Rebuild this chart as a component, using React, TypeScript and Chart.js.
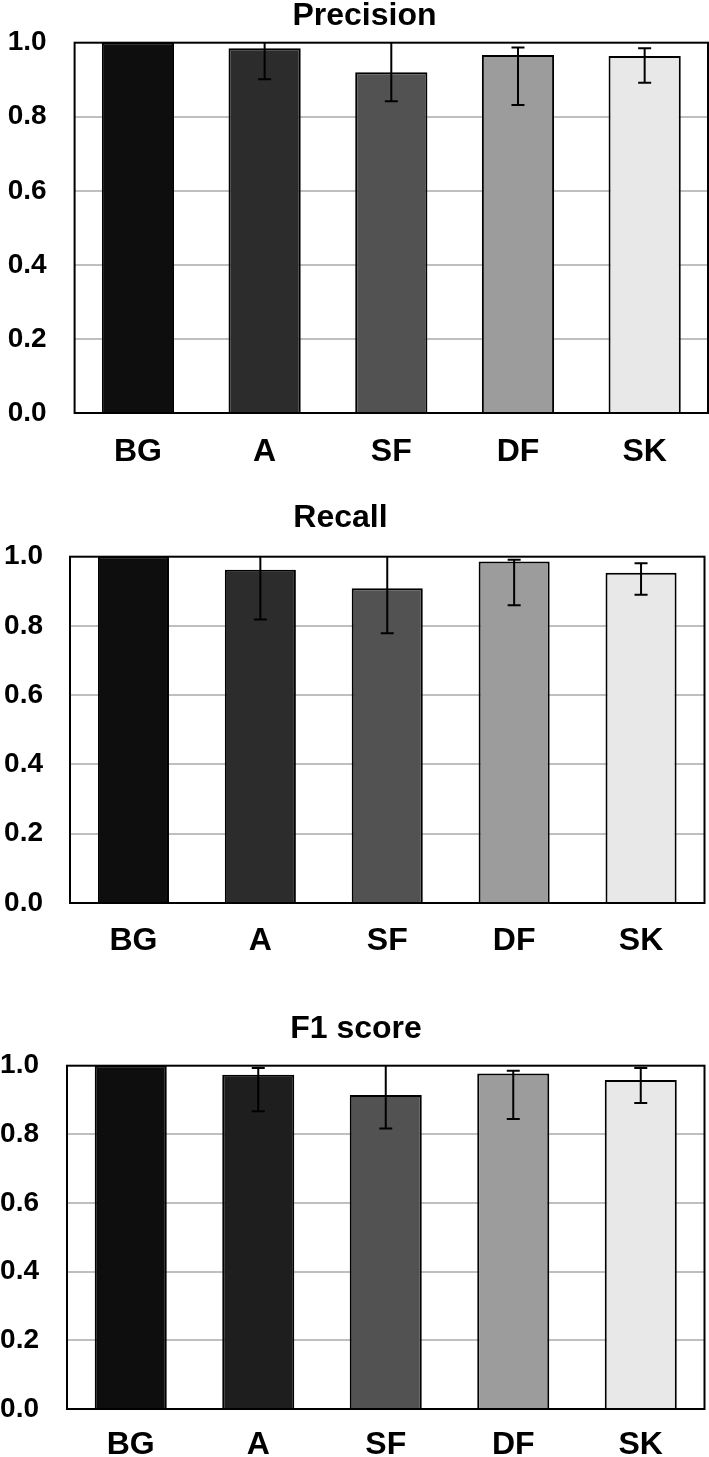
import React, { useEffect, useRef } from "react";
import { Chart, registerables } from "chart.js";

Chart.register(...registerables);

// ---------- data ----------
const categories = ["BG", "A", "SF", "DF", "SK"];
const yTickValues = [0, 0.2, 0.4, 0.6, 0.8, 1.0];

const precisionValues = [1.0, 0.985, 0.92, 0.967, 0.964];
const precisionLow = [1.0, 0.901, 0.842, 0.832, 0.892];
const precisionHigh = [1.0, 1.05, 1.03, 0.987, 0.985];

const recallValues = [1.0, 0.962, 0.909, 0.986, 0.954];
const recallLow = [1.0, 0.819, 0.779, 0.86, 0.89];
const recallHigh = [1.0, 1.05, 1.05, 0.991, 0.981];

const f1Values = [1.0, 0.974, 0.915, 0.977, 0.958];
const f1Low = [1.0, 0.867, 0.817, 0.845, 0.891];
const f1High = [1.0, 0.993, 1.05, 0.985, 0.993];

const barColorsA = ["#0e0e0e", "#2c2c2c", "#525252", "#9c9c9c", "#e8e8e8"];
const barColorsB = ["#0e0e0e", "#1e1e1e", "#525252", "#9c9c9c", "#e8e8e8"];

const FONT = "'Liberation Sans', Arial, Helvetica, sans-serif";

type Panel = {
  title: string;
  values: number[];
  low: number[];
  high: number[];
  colors: string[];
  top: number;
  height: number;
  padR: number;
  titleCenterX: number;
  titlePadBottom: number;
  yWidth: number;
  yTickPad: number;
  xTickPad: number;
  barPct: number;
};

const panels: Panel[] = [
  {
    title: "Precision",
    values: precisionValues,
    low: precisionLow,
    high: precisionHigh,
    colors: barColorsA,
    top: 0,
    height: 469,
    padR: 1,
    titleCenterX: 364.5,
    titlePadBottom: 10.7,
    yWidth: 74.6,
    yTickPad: 28,
    xTickPad: 23,
    barPct: 0.57,
  },
  {
    title: "Recall",
    values: recallValues,
    low: recallLow,
    high: recallHigh,
    colors: barColorsA,
    top: 502,
    height: 456.5,
    padR: 4.5,
    titleCenterX: 340.5,
    titlePadBottom: 22.7,
    yWidth: 70,
    yTickPad: 27,
    xTickPad: 22,
    barPct: 0.56,
  },
  {
    title: "F1 score",
    values: f1Values,
    low: f1Low,
    high: f1High,
    colors: barColorsB,
    top: 1013,
    height: 452,
    padR: 4.5,
    titleCenterX: 356,
    titlePadBottom: 20.7,
    yWidth: 67,
    yTickPad: 28,
    xTickPad: 20,
    barPct: 0.565,
  },
];

function makeErrorAndFramePlugin(low: number[], high: number[], titleCenterX: number) {
  return {
    id: "errorBarsAndFrame",
    afterLayout(chart: any) {
      const t = chart.titleBlock;
      if (t) {
        t.left = titleCenterX - 250;
        t.right = titleCenterX + 250;
        t.width = 500;
      }
    },
    afterDatasetsDraw(chart: any) {
      const ctx = chart.ctx as CanvasRenderingContext2D;
      const area = chart.chartArea;
      const yScale = chart.scales.y;
      const meta = chart.getDatasetMeta(0);
      ctx.save();
      ctx.beginPath();
      ctx.rect(area.left, area.top, area.right - area.left, area.bottom - area.top);
      ctx.clip();
      ctx.strokeStyle = "#000";
      ctx.lineWidth = 2;
      meta.data.forEach((bar: any, i: number) => {
        if (low[i] === high[i]) return;
        const x = bar.x;
        const yl = yScale.getPixelForValue(low[i]);
        const yh = yScale.getPixelForValue(high[i]);
        const cap = 6.5;
        ctx.beginPath();
        ctx.moveTo(x, yl);
        ctx.lineTo(x, yh);
        ctx.moveTo(x - cap, yl);
        ctx.lineTo(x + cap, yl);
        ctx.moveTo(x - cap, yh);
        ctx.lineTo(x + cap, yh);
        ctx.stroke();
      });
      ctx.restore();
      ctx.save();
      ctx.strokeStyle = "#000";
      ctx.lineWidth = 2;
      ctx.strokeRect(area.left, area.top, area.right - area.left, area.bottom - area.top);
      ctx.restore();
    },
  };
}

function BarPanel({ p }: { p: Panel }) {
  const ref = useRef<HTMLCanvasElement | null>(null);
  useEffect(() => {
    if (!ref.current) return;
    const chart = new Chart(ref.current, {
      type: "bar",
      data: {
        labels: categories,
        datasets: [
          {
            data: p.values,
            backgroundColor: p.colors,
            borderColor: "#000",
            borderWidth: 2,
            categoryPercentage: 1,
            barPercentage: p.barPct,
          },
        ],
      },
      options: {
        responsive: false,
        animation: false,
        devicePixelRatio: 1,
        layout: { padding: { left: 0, right: p.padR, top: 0, bottom: 0 } },
        plugins: {
          legend: { display: false },
          tooltip: { enabled: false },
          title: {
            display: true,
            text: p.title,
            color: "#000",
            font: { family: FONT, size: 32, weight: "bold", lineHeight: 1 },
            padding: { top: 0, bottom: p.titlePadBottom },
          },
        },
        scales: {
          x: {
            grid: { display: false, drawTicks: false },
            border: { display: false },
            ticks: {
              color: "#000",
              padding: p.xTickPad,
              font: { family: FONT, size: 32, weight: "bold", lineHeight: 1 },
            },
            afterFit: (s: any) => {
              s.height = 56;
            },
          },
          y: {
            min: 0,
            max: 1,
            grid: {
              drawTicks: false,
              lineWidth: 2,
              color: (c: any) =>
                c.tick && (c.tick.value === 0 || c.tick.value === 1) ? "rgba(0,0,0,0)" : "#bfbfbf",
            },
            border: { display: false },
            afterBuildTicks: (s: any) => {
              s.ticks = yTickValues.map((v) => ({ value: v }));
            },
            ticks: {
              color: "#000",
              padding: p.yTickPad,
              font: { family: FONT, size: 28, weight: "bold", lineHeight: 1 },
              callback: (v: any) => Number(v).toFixed(1),
            },
            afterFit: (s: any) => {
              s.width = p.yWidth;
            },
          },
        },
      },
      plugins: [makeErrorAndFramePlugin(p.low, p.high, p.titleCenterX)],
    } as any);
    return () => chart.destroy();
  }, [p]);

  const h = Math.round(p.height);
  return (
    <div style={{ position: "absolute", left: 0, top: p.top, width: 709, height: h }}>
      <canvas ref={ref} width={709} height={h} style={{ width: 709, height: h, display: "block" }} />
    </div>
  );
}

export default function App() {
  useEffect(() => {
    document.body.style.margin = "0";
    document.body.style.overflow = "hidden";
  }, []);
  return (
    <div
      style={{
        position: "absolute",
        left: 0,
        top: 0,
        width: 709,
        height: 1457,
        overflow: "hidden",
        background: "#fff",
      }}
    >
      {panels.map((p) => (
        <BarPanel key={p.title} p={p} />
      ))}
    </div>
  );
}
